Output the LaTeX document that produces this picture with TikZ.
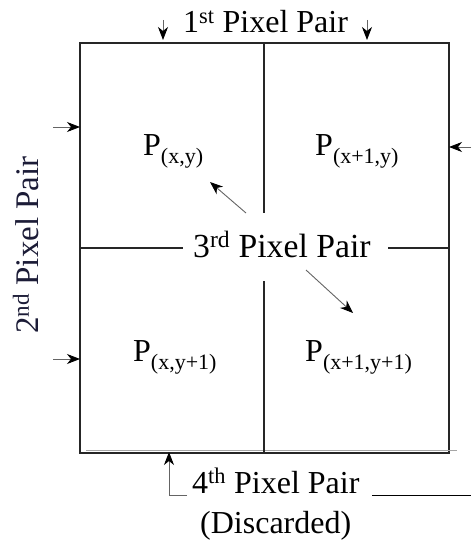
\documentclass[tikz,border=0pt]{standalone}
\usepackage{fontspec}
\setmainfont{Liberation Serif}
\usetikzlibrary{arrows.meta}
\definecolor{navy}{RGB}{28,28,55}
\definecolor{shaft}{RGB}{100,100,100}
\newcommand{\sub}[1]{\raisebox{-8pt}{\fontsize{22}{22}\selectfont #1}}
\tikzset{
  lbl/.style={inner sep=0pt, anchor=base west, font=\fontsize{32}{38}\selectfont},
  boxline/.style={line width=1.1pt, draw=black!85},
  pointer/.style={draw=shaft, line width=0.9pt, -{Stealth[black,length=13pt,width=10pt,inset=4pt]}},
}
\begin{document}
\begin{tikzpicture}[x=1pt,y=-1pt]
\useasboundingbox (0,0) rectangle (471,548);
% box
\coordinate (tl) at (80,43);
\coordinate (br) at (449,453);
\draw[boxline] (tl) rectangle (br);
\draw[draw=black!35, line width=1.6pt] (86,450.5) -- (457,450.5);
% middle lines
\draw[boxline] (264,43) -- (264,213);
\draw[boxline] (264,281) -- (264,453);
\draw[boxline] (80,248) -- (183,248);
\draw[boxline] (388,248) -- (449,248);
% labels
\node[lbl] (p1) at (183,33) {1\textsuperscript{st} Pixel Pair};
\node[lbl, text=navy, rotate=90, font=\fontsize{33}{38}\selectfont] (p2) at (38,334) {2\textsuperscript{nd} Pixel Pair};
\node[lbl, font=\fontsize{33.7}{38}\selectfont] (p3) at (193,257) {3\textsuperscript{rd} Pixel Pair};
\node[lbl] (p4) at (192,493) {4\textsuperscript{th} Pixel Pair};
\node[lbl] (disc) at (200,533) {(Discarded)};
\node[lbl] (a) at (143,156) {P\sub{(x,y)}};
\node[lbl] (b) at (315,156) {P\sub{(x+1,y)}};
\node[lbl] (c) at (133,361) {P\sub{(x,y+1)}};
\node[lbl] (d) at (305,361) {P\sub{(x+1,y+1)}};
% top arrows
\coordinate (t1s) at (163,20); \coordinate (t1e) at (163,40);
\coordinate (t2s) at (367,20); \coordinate (t2e) at (367,40);
\draw[pointer] (t1s) -- (t1e);
\draw[pointer] (t2s) -- (t2e);
% left arrows
\coordinate (l1s) at (53,127); \coordinate (l1e) at (80,127);
\coordinate (l2s) at (53,359); \coordinate (l2e) at (80,359);
\draw[pointer] (l1s) -- (l1e);
\draw[pointer] (l2s) -- (l2e);
% right arrow
\coordinate (r1s) at (471,147); \coordinate (r1e) at (449,147);
\draw[pointer] (r1s) -- (r1e);
% diagonal arrows
\coordinate (d1s) at (246,213); \coordinate (d1e) at (210,182);
\coordinate (d2s) at (306,270); \coordinate (d2e) at (353,313);
\draw[pointer] (d1s) -- (d1e);
\draw[pointer] (d2s) -- (d2e);
% bottom arrow
\coordinate (bk) at (187,495);
\coordinate (bc) at (169,495);
\coordinate (bt) at (169,452);
\draw[draw=shaft, line width=0.9pt] (bk) -- (bc);
\draw[pointer] (bc) -- (bt);
\coordinate (rl1) at (372,495); \coordinate (rl2) at (471,495);
\draw[black, line width=1pt] (rl1) -- (rl2);
\end{tikzpicture}
\end{document}
